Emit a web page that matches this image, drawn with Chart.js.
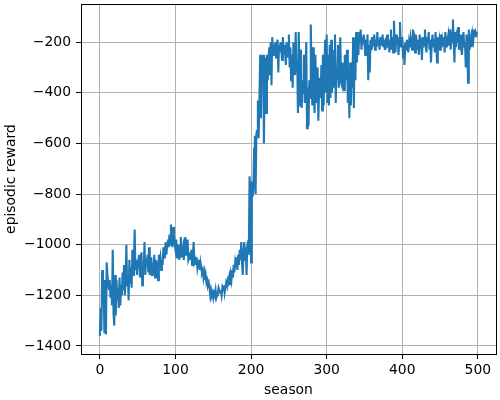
<!DOCTYPE html>
<html>
<head>
<meta charset="utf-8">
<script src="https://cdn.jsdelivr.net/npm/chart.js@4"></script>
<style>
  html, body { margin: 0; padding: 0; background: #fff; }
  #wrap { width: 500px; height: 400px; }
</style>
</head>
<body>
<div id="wrap"><canvas id="reward-chart" width="500" height="400"></canvas></div>
<script>
// episodic reward per season (seasons 0..499)
const rewards = [
    -1360, -1250, -1340, -1100, -1130, -1180, -1350, -1140, -1355, -1070,
    -1120, -1150, -1180, -1140, -1210, -1160, -1240, -1020, -1270, -1320,
    -1120, -1280, -1140, -1220, -1170, -1250, -1130, -1240, -1160, -1200,
    -1110, -1180, -1080, -1200, -1140, -1000, -1160, -1120, -1220, -1060,
    -1150, -1090, -1170, -1020, -1120, -1060, -940, -1100, -1060, -1120,
    -1080, -1060, -1040, -1130, -1060, -1030, -1160, -1080, -1100, -990,
    -1120, -1060, -1080, -1040, -1110, -1010, -1120, -1090, -1050, -1120,
    -1070, -1100, -1040, -1130, -1060, -1090, -1080, -1140, -1040, -1070,
    -1050, -1100, -1060, -1080, -1010, -1050, -1030, -990, -1040, -1000,
    -980, -1010, -960, -1000, -920, -990, -1010, -930, -960, -1000,
    -1020, -980, -1050, -1030, -1000, -1060, -1040, -970, -1050, -1030,
    -1010, -1060, -990, -970, -1040, -1010, -980, -1060, -1050, -1030,
    -1060, -1020, -1080, -1050, -990, -1070, -1060, -1080, -1050, -1090,
    -1070, -1060, -1100, -1070, -1090, -1110, -1100, -1130, -1110, -1140,
    -1120, -1150, -1140, -1160, -1150, -1170, -1200, -1180, -1200, -1190,
    -1210, -1190, -1200, -1180, -1210, -1200, -1190, -1170, -1180, -1190,
    -1180, -1200, -1170, -1180, -1160, -1190, -1170, -1150, -1160, -1140,
    -1150, -1130, -1160, -1120, -1140, -1100, -1130, -1080, -1110, -1070,
    -1090, -1050, -1100, -1040, -1080, -1020, -1060, -990, -1070, -1120,
    -1030, -990, -1060, -1010, -1120, -1000, -990, -1040, -730, -800,
    -1070, -750, -810, -780, -620, -570, -800, -560, -550, -430,
    -580, -440, -250, -500, -260, -300, -250, -600, -280, -260,
    -480, -250, -350, -280, -220, -330, -200, -370, -180, -250,
    -210, -240, -200, -260, -220, -190, -320, -210, -240, -200,
    -230, -270, -180, -250, -210, -240, -290, -200, -260, -230,
    -170, -300, -220, -350, -250, -380, -200, -290, -330, -160,
    -320, -270, -480, -160, -300, -450, -230, -460, -350, -400,
    -250, -440, -300, -200, -540, -380, -530, -350, -420, -130,
    -300, -450, -220, -400, -480, -250, -370, -440, -300, -510,
    -380, -340, -420, -290, -470, -250, -450, -300, -190, -400,
    -170, -440, -250, -450, -210, -420, -190, -400, -230, -380,
    -260, -170, -440, -300, -350, -210, -380, -330, -180, -360,
    -370, -280, -340, -390, -250, -350, -310, -230, -440, -310,
    -500, -280, -450, -320, -380, -180, -460, -200, -350, -160,
    -280, -180, -250, -160, -200, -150, -230, -180, -210, -170,
    -200, -250, -190, -230, -170, -350, -210, -320, -190, -230,
    -180, -210, -200, -170, -230, -190, -220, -160, -210, -190,
    -230, -180, -210, -200, -170, -220, -190, -230, -200, -210,
    -170, -220, -190, -240, -200, -150, -230, -180, -240, -115,
    -200, -240, -170, -210, -180, -250, -190, -120, -220, -200,
    -180, -260, -210, -290, -200, -230, -190, -210, -240, -200,
    -220, -180, -200, -230, -150, -210, -190, -240, -170, -200,
    -230, -190, -250, -170, -210, -200, -270, -180, -220, -190,
    -150, -210, -240, -180, -200, -160, -230, -190, -280, -200,
    -170, -220, -190, -240, -160, -200, -280, -180, -210, -190,
    -230, -170, -220, -190, -210, -180, -240, -160, -200, -220,
    -190, -170, -210, -150, -230, -180, -200, -110, -190, -280,
    -160, -220, -180, -200, -140, -230, -190, -210, -170, -250,
    -190, -160, -220, -200, -300, -170, -210, -360, -150, -230,
    -200, -180, -220, -170, -190, -150, -180, -160, -170, -160
]
const xTicks = [0, 100, 200, 300, 400, 500]
const yTicks = [-1400, -1200, -1000, -800, -600, -400, -200]
const xLabel = "season"
const yLabel = "episodic reward"

const points = rewards.map((v, i) => ({ x: i, y: v }))
const fontFamily = "'DejaVu Sans', sans-serif"
const fmt = v => String(v).replace("-", "\u2212")

// frame around the plot area, like matplotlib's spines
const frame = {
    id: "frame",
    afterDraw(chart) {
        const a = chart.chartArea
        const c = chart.ctx
        c.save()
        c.strokeStyle = "#000"
        c.lineWidth = 1
        c.strokeRect(Math.round(a.left) + 0.5, Math.round(a.top) + 0.5,
            Math.round(a.right - a.left), Math.round(a.bottom - a.top))
        c.restore()
    }
}

const ctx = document.getElementById("reward-chart").getContext("2d")
new Chart(ctx, {
    type: "line",
    data: {
        datasets: [{
            data: points,
            borderColor: "#1f77b4",
            borderWidth: 2.1,
            pointRadius: 0,
            tension: 0,
            fill: false
        }]
    },
    options: {
        responsive: false,
        animation: false,
        events: [],
        layout: { padding: { top: 4, right: 4, left: 0, bottom: 0 } },
        plugins: { legend: { display: false }, tooltip: { enabled: false } },
        scales: {
            x: {
                type: "linear",
                min: -25,
                max: 524,
                afterBuildTicks: s => { s.ticks = xTicks.map(v => ({ value: v })) },
                afterFit: s => { s.height = 46; s.paddingLeft = 0; s.paddingRight = 0 },
                ticks: {
                    color: "#000",
                    font: { family: fontFamily, size: 13.9 },
                    padding: 3,
                    maxRotation: 0,
                    callback: v => fmt(v)
                },
                grid: { color: "#b0b0b0", lineWidth: 1, tickLength: 5, tickColor: "#000" },
                border: { display: false },
                title: {
                    display: true,
                    text: xLabel,
                    color: "#000",
                    font: { family: fontFamily, size: 13.9 },
                    padding: { top: 0, bottom: 1 }
                }
            },
            y: {
                type: "linear",
                min: -1432,
                max: -49,
                afterBuildTicks: s => { s.ticks = yTicks.map(v => ({ value: v })) },
                afterFit: s => { s.width = 81; s.paddingTop = 0; s.paddingBottom = 0 },
                ticks: {
                    color: "#000",
                    font: { family: fontFamily, size: 13.9 },
                    padding: 5,
                    callback: v => fmt(v)
                },
                grid: { color: "#b0b0b0", lineWidth: 1, tickLength: 5, tickColor: "#000" },
                border: { display: false },
                title: {
                    display: true,
                    text: yLabel,
                    color: "#000",
                    font: { family: fontFamily, size: 13.9 },
                    padding: { top: 3, bottom: 0 }
                }
            }
        }
    },
    plugins: [frame]
})
</script>
</body>
</html>
